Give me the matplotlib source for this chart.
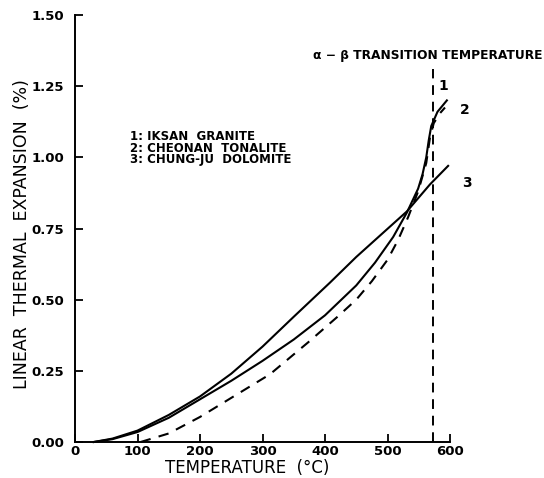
import matplotlib
matplotlib.use("Agg")
import matplotlib.pyplot as plt

# ---- data ----
t_granite = [30, 60, 100, 150, 200, 250, 300, 350, 400, 450, 480, 509, 531, 549, 556, 562, 566, 570, 580, 595]
v_granite = [0.0, 0.01, 0.035, 0.085, 0.15, 0.215, 0.285, 0.36, 0.445, 0.55, 0.63, 0.72, 0.806, 0.89, 0.94, 1.0, 1.06, 1.11, 1.16, 1.20]

t_tonalite = [105, 150, 200, 250, 312, 373, 420, 450, 475, 500, 517, 533, 549, 562, 568, 574, 584, 592]
v_tonalite = [0.0, 0.03, 0.088, 0.155, 0.238, 0.35, 0.44, 0.50, 0.565, 0.64, 0.71, 0.79, 0.88, 0.98, 1.07, 1.12, 1.155, 1.175]

t_dolomite = [30, 60, 100, 150, 200, 250, 300, 350, 408, 450, 493, 531, 568, 597]
v_dolomite = [0.0, 0.012, 0.04, 0.095, 0.16, 0.24, 0.335, 0.44, 0.56, 0.65, 0.735, 0.81, 0.905, 0.97]

transition_T = 573
xticks = [0, 100, 200, 300, 400, 500, 600]
yticks = [0.00, 0.25, 0.50, 0.75, 1.00, 1.25, 1.50]
legend_lines = ["1: IKSAN  GRANITE", "2: CHEONAN  TONALITE", "3: CHUNG-JU  DOLOMITE"]
curve_numbers = ["1", "2", "3"]

W, H = 544, 478
fig = plt.figure(figsize=(W / 100, H / 100), dpi=100)
ax_l, ax_r, ax_b, ax_t = 75, 450, 442, 15
ax = fig.add_axes([ax_l / W, 1 - ax_b / H, (ax_r - ax_l) / W, (ax_b - ax_t) / H])
ax.set_xlim(0, 600)
ax.set_ylim(0, 1.5)

lw = 1.5
ax.plot(t_granite, v_granite, color="black", lw=lw, clip_on=False)
ax.plot(t_tonalite, v_tonalite, color="black", lw=lw, dashes=(5, 4), clip_on=False)
ax.plot(t_dolomite, v_dolomite, color="black", lw=lw, clip_on=False)
ax.plot([transition_T, transition_T], [0, 1.31], color="black", lw=1.4, dashes=(5, 3.5))

for s in ["top", "right"]:
    ax.spines[s].set_visible(False)
for s in ["left", "bottom"]:
    ax.spines[s].set_linewidth(1.4)

ax.set_xticks(xticks)
ax.set_xticklabels([str(x) for x in xticks])
ax.set_yticks(yticks)
ax.set_yticklabels(["%.2f" % y for y in yticks])
ax.tick_params(direction="in", length=6, width=1.3, labelsize=9.5)
ax.tick_params(axis="y", pad=8)
ax.tick_params(axis="x", pad=2)
for lab in ax.get_xticklabels() + ax.get_yticklabels():
    lab.set_fontweight("bold")

fig.text(247 / W, 1 - 468 / H, "TEMPERATURE  (°C)", ha="center", va="center", fontsize=12)
fig.text(22 / W, 1 - 234 / H, "LINEAR  THERMAL  EXPANSION  (%)", ha="center", va="center",
         rotation=90, fontsize=12.5)

fig.text(313 / W, 1 - 55 / H, "α − β TRANSITION TEMPERATURE", ha="left", va="center",
         fontsize=8.8, fontweight="bold")

for i, line in enumerate(legend_lines):
    fig.text(130 / W, 1 - (136 + 12 * i) / H, line, ha="left", va="center",
             fontsize=8.5, fontweight="bold")

num_pos = [(589, 1.25), (624, 1.167), (627, 0.91)]
for lab, (x, y) in zip(curve_numbers, num_pos):
    ax.text(x, y, lab, ha="center", va="center", fontsize=10, fontweight="bold", clip_on=False)

fig.savefig("out.png", dpi=100, facecolor="white")
